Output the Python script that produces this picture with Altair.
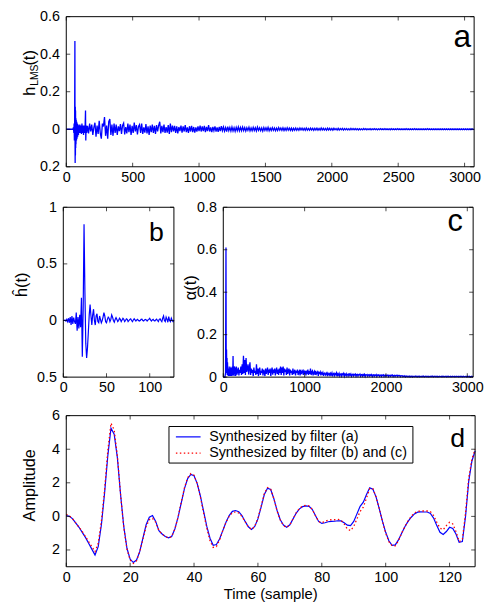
import altair as alt
import pandas as pd

FONT = "Liberation Sans"
BLUE = "#0000ff"
RED = "#ff0000"

# ---------------- data ----------------
# (a) LMS filter h_LMS(t): detailed head, then samples every 8
a_head_t = [0, 50, 54, 57, 59, 61, 63, 65, 66, 67, 68, 69, 70, 71, 72, 73, 75, 77, 79, 81,
            83, 86, 89, 92, 95, 98, 102, 106, 110, 114, 118, 122, 126, 130, 134, 138, 142,
            145, 147, 150, 154]
a_head_v = [0.0, 0.0, 0.01, -0.02, 0.03, -0.06, 0.04, 0.47, -0.05, -0.18, 0.12, -0.14, 0.1,
            -0.1, 0.06, -0.08, 0.05, -0.06, 0.04, -0.05, 0.03, -0.04, 0.025, -0.03, 0.02,
            -0.02, 0.025, -0.02, 0.02, -0.025, 0.03, -0.02, 0.02, -0.03, 0.02, -0.02, 0.015,
            0.10, -0.06, 0.02, -0.02]
a_tail_start = 160
a_tail_step = 8
a_tail_v = [
    # 160 .. 352
    0.018, -0.022, 0.03, -0.012, 0.025, -0.03, 0.01, 0.035, -0.04, 0.02,
    -0.025, 0.045, -0.02, -0.05, 0.03, 0.015, 0.065, -0.035, 0.02, -0.05,
    0.04, 0.055, -0.03, 0.025, -0.035,
    # 360 .. 704
    0.03, -0.02, 0.025, -0.03, 0.015, -0.01, 0.028, -0.025, 0.02, 0.032,
    -0.028, 0.012, -0.022, 0.03, -0.015, 0.025, -0.03, 0.018, -0.02, 0.035,
    -0.012, 0.022, -0.028, 0.015, 0.025, -0.02, 0.03, -0.025, 0.01, -0.018,
    0.028, -0.022, 0.015, -0.03, 0.02, -0.015, 0.025, -0.02, 0.018, -0.025,
    0.022, -0.012, 0.02, 0.04,
    # 712 .. 1000
    -0.022, 0.018, -0.015, 0.025, -0.02, 0.012, -0.018, 0.022, -0.025, 0.03,
    -0.015, 0.02, -0.012, 0.018, -0.02, 0.015, -0.022, 0.012, -0.01, 0.02,
    -0.018, 0.015, -0.012, 0.022, -0.015, 0.01, -0.02, 0.016, -0.012, 0.018,
    -0.015, 0.012, -0.018, 0.01, -0.012, 0.015, -0.01,
    # 1008 .. 1304
    0.02, -0.012, 0.015, -0.01, 0.018, -0.015, 0.012, -0.01, 0.022, -0.012,
    0.01, -0.015, 0.012, -0.008, 0.015, -0.012, 0.01, -0.014, 0.012, -0.01,
    0.016, -0.008, 0.012, -0.01, 0.009, -0.012, 0.014, -0.008, 0.01, -0.01,
    0.012, -0.009, 0.008, -0.011, 0.01, -0.008, 0.012, -0.009,
    # 1312 .. 1704
    0.01, -0.008, 0.012, -0.007, 0.009, -0.01, 0.008, -0.006, 0.011, -0.009,
    0.007, -0.008, 0.01, -0.007, 0.008, -0.009, 0.012, -0.006, 0.008, -0.008,
    0.007, -0.01, 0.009, -0.006, 0.008, -0.007, 0.01, -0.008, 0.006, -0.007,
    0.009, -0.006, 0.007, -0.008, 0.006, -0.007, 0.009, -0.005, 0.007, -0.006,
    0.008, -0.007, 0.006, -0.006, 0.008, -0.005, 0.007, -0.006, 0.006, -0.007,
    # 1712 .. 2200
    0.006, -0.005, 0.007, -0.006, 0.005, -0.006, 0.007, -0.004, 0.006, -0.005,
    0.005, -0.006, 0.007, -0.005, 0.004, -0.005, 0.006, -0.004, 0.005, -0.006,
    0.005, -0.004, 0.006, -0.005, 0.004, -0.005, 0.007, -0.004, 0.005, -0.004,
    0.004, -0.005, 0.006, -0.004, 0.005, -0.004, 0.004, -0.005, 0.005, -0.003,
    0.004, -0.004, 0.005, -0.004, 0.004, -0.003, 0.005, -0.004, 0.004, -0.003,
    0.004, -0.004, 0.003, -0.004, 0.005, -0.003, 0.004, -0.003, 0.004, -0.003,
    0.003, -0.004,
    # 2208 .. 3072
    0.003, -0.003, 0.002, -0.003, 0.004, -0.002, 0.003, -0.003, 0.002, -0.002,
    0.003, -0.003, 0.002, -0.002, 0.003, -0.002, 0.002, -0.003, 0.002, -0.002,
    0.003, -0.002, 0.002, -0.002, 0.003, -0.002, 0.002, -0.002, 0.002, -0.003,
    0.003, -0.002, 0.002, -0.002, 0.002, -0.002, 0.003, -0.002, 0.002, -0.002,
    0.002, -0.002, 0.002, -0.002, 0.003, -0.002, 0.002, -0.002, 0.002, -0.002,
    0.002, -0.002, 0.003, -0.002, 0.002, -0.002, 0.002, -0.002, 0.002, -0.002,
    0.002, -0.002, 0.002, -0.002, 0.003, -0.002, 0.002, -0.002, 0.002, -0.002,
    0.002, -0.002, 0.002, -0.002, 0.002, -0.002, 0.002, -0.002, 0.002, -0.002,
    0.002, -0.002, 0.002, -0.002, 0.002, -0.002, 0.002, -0.002, 0.002, -0.002,
    0.002, -0.002, 0.002, -0.002, 0.002, -0.002, 0.002, -0.002, 0.002, -0.002,
    0.002, -0.002, 0.002, -0.002, 0.002, -0.002, 0.002, -0.002, 0.0]

# (b) sparse filter h^(t), samples 0..128
b_v = [0.0, 0.0, 0.005, -0.005, 0.01, -0.01, 0.02, -0.02, 0.03, -0.04,
       0.04, -0.03, 0.025, -0.01, -0.03, 0.07, -0.09, 0.03, -0.07, 0.05,
       -0.06, 0.2, -0.32, 0.1, 0.85, 0.25, -0.2, -0.33, -0.24, -0.1,
       0.05, 0.14, 0.04, -0.04, 0.05, 0.1, 0.0, -0.04, 0.04, 0.06,
       -0.01, -0.02, 0.04, 0.01, -0.02, 0.0, 0.03, 0.07, 0.04, -0.01,
       -0.02, 0.01, 0.03, 0.02, -0.01, 0.01, 0.05, 0.03, 0.0, -0.015,
       0.01, 0.025, 0.01, -0.01, 0.0, 0.02, 0.01, -0.01, 0.005, 0.02,
       0.01, -0.01, 0.0, 0.015, 0.01, -0.01, 0.0, 0.01, 0.015, 0.0,
       -0.01, 0.005, 0.015, 0.005, -0.005, 0.005, 0.01, 0.0, -0.005, 0.0,
       0.01, 0.012, 0.0, -0.005, 0.005, 0.01, 0.005, -0.005, 0.005, 0.01,
       0.02, 0.005, -0.005, 0.005, 0.01, 0.0, -0.005, 0.005, 0.012, 0.0,
       -0.01, 0.01, 0.015, 0.0, -0.01, 0.02, 0.04, 0.0, -0.01, 0.03,
       0.01, -0.015, 0.035, 0.0, -0.01, 0.02, 0.0, -0.01, 0.005]

# (c) alpha(t): detailed head, then samples every 8
c_head_t = [0, 20, 28, 33, 36, 40, 43, 46, 49, 52, 55, 58, 61, 64, 68, 72, 76, 80, 84, 88,
            92, 96, 100, 104, 108, 112, 116, 120, 124, 128, 132, 136]
c_head_v = [0.0, 0.0, 0.02, 0.61, 0.05, 0.13, 0.02, 0.09, 0.01, 0.07, 0.02, 0.05, 0.005,
            0.04, 0.01, 0.03, 0.005, 0.05, 0.01, 0.03, 0.005, 0.045, 0.01, 0.03, 0.005,
            0.05, 0.01, 0.1, 0.01, 0.04, 0.005, 0.05]
c_tail_start = 144
c_tail_step = 8
c_tail_v = [
    # 144 .. 352
    0.04, 0.005, 0.05, 0.012, 0.03, 0.045, 0.008, 0.035, 0.02, 0.05,
    0.01, 0.06, 0.015, 0.1, 0.02, 0.08, 0.01, 0.09, 0.025, 0.04,
    0.06, 0.012, 0.045, 0.07, 0.01, 0.04, 0.02,
    # 360 .. 704
    0.035, 0.005, 0.045, 0.02, 0.03, 0.01, 0.06, 0.015, 0.04, 0.005,
    0.035, 0.045, 0.01, 0.03, 0.02, 0.04, 0.008, 0.035, 0.025, 0.005,
    0.04, 0.015, 0.03, 0.045, 0.01, 0.035, 0.02, 0.04, 0.005, 0.03,
    0.045, 0.012, 0.035, 0.02, 0.04, 0.008, 0.03, 0.045, 0.015, 0.035,
    0.01, 0.04, 0.02, 0.05,
    # 712 .. 1000
    0.01, 0.045, 0.02, 0.05, 0.008, 0.04, 0.025, 0.035, 0.01, 0.045,
    0.015, 0.03, 0.04, 0.008, 0.035, 0.02, 0.03, 0.01, 0.04, 0.015,
    0.025, 0.035, 0.008, 0.03, 0.02, 0.035, 0.01, 0.025, 0.03, 0.008,
    0.035, 0.015, 0.025, 0.03, 0.01, 0.028, 0.02,
    # 1008 .. 1304
    0.03, 0.008, 0.025, 0.02, 0.035, 0.01, 0.028, 0.015, 0.04, 0.01,
    0.025, 0.03, 0.008, 0.022, 0.028, 0.01, 0.03, 0.015, 0.02, 0.025,
    0.006, 0.022, 0.018, 0.025, 0.008, 0.02, 0.015, 0.022, 0.006, 0.018,
    0.02, 0.01, 0.015, 0.02, 0.005, 0.018, 0.012, 0.016,
    # 1312 .. 1704
    0.005, 0.018, 0.012, 0.02, 0.004, 0.015, 0.018, 0.008, 0.016, 0.012,
    0.02, 0.004, 0.015, 0.01, 0.018, 0.006, 0.014, 0.016, 0.005, 0.015,
    0.012, 0.018, 0.004, 0.014, 0.01, 0.016, 0.005, 0.013, 0.015, 0.006,
    0.014, 0.01, 0.015, 0.004, 0.012, 0.014, 0.006, 0.013, 0.01, 0.014,
    0.004, 0.012, 0.013, 0.005, 0.012, 0.01, 0.014, 0.004, 0.011, 0.012,
    # 1712 .. 2200
    0.005, 0.012, 0.008, 0.013, 0.003, 0.011, 0.01, 0.012, 0.004, 0.01,
    0.012, 0.005, 0.011, 0.008, 0.012, 0.003, 0.01, 0.011, 0.004, 0.01,
    0.008, 0.012, 0.003, 0.01, 0.009, 0.011, 0.004, 0.009, 0.01, 0.003,
    0.01, 0.008, 0.011, 0.003, 0.009, 0.01, 0.004, 0.009, 0.008, 0.01,
    0.003, 0.008, 0.009, 0.004, 0.009, 0.007, 0.01, 0.003, 0.008, 0.009,
    0.003, 0.008, 0.007, 0.009, 0.003, 0.008, 0.007, 0.008, 0.002, 0.007,
    0.006, 0.007,
    # 2208 .. 3072
    0.002, 0.005, 0.003, 0.006, 0.001, 0.004, 0.005, 0.002, 0.004, 0.003,
    0.005, 0.001, 0.004, 0.003, 0.005, 0.001, 0.004, 0.004, 0.002, 0.005,
    0.003, 0.004, 0.001, 0.004, 0.003, 0.005, 0.001, 0.003, 0.004, 0.002,
    0.004, 0.003, 0.005, 0.001, 0.003, 0.004, 0.002, 0.004, 0.003, 0.004,
    0.001, 0.003, 0.004, 0.002, 0.004, 0.003, 0.005, 0.001, 0.003, 0.004,
    0.002, 0.004, 0.003, 0.004, 0.001, 0.003, 0.004, 0.002, 0.003, 0.004,
    0.001, 0.004, 0.003, 0.004, 0.002, 0.003, 0.004, 0.001, 0.004, 0.003,
    0.004, 0.002, 0.003, 0.004, 0.001, 0.003, 0.004, 0.002, 0.003, 0.004,
    0.001, 0.003, 0.004, 0.002, 0.003, 0.004, 0.001, 0.003, 0.004, 0.002,
    0.003, 0.003, 0.001, 0.004, 0.003, 0.002, 0.003, 0.004, 0.001, 0.003,
    0.003, 0.002, 0.004, 0.003, 0.001, 0.003, 0.004, 0.002, 0.003]

# (d) synthesized waveforms, samples 0..128
d_blue = [0.05, 0.0, -0.15, -0.4, -0.65, -0.95, -1.25, -1.6, -1.95, -2.3,
          -1.8, -0.5, 1.4, 3.6, 5.25, 4.9, 3.5, 1.3, -0.6, -1.9,
          -2.55, -2.75, -2.6, -2.1, -1.3, -0.5, -0.05, 0.05, -0.3, -0.85,
          -1.05, -1.2, -1.28, -1.2, -0.75, -0.05, 0.8, 1.65, 2.25, 2.5,
          2.42, 1.95, 1.2, 0.3, -0.6, -1.3, -1.72, -1.68, -1.35, -0.85,
          -0.35, 0.05, 0.3, 0.35, 0.28, 0.05, -0.3, -0.62, -0.78, -0.6,
          -0.15, 0.55, 1.3, 1.68, 1.6, 1.05, 0.35, -0.2, -0.52, -0.65,
          -0.5, -0.15, 0.2, 0.45, 0.58, 0.63, 0.6, 0.42, 0.05, -0.3,
          -0.42, -0.38, -0.32, -0.3, -0.29, -0.26, -0.27, -0.38, -0.52, -0.55,
          -0.3, 0.15, 0.6, 0.85, 1.3, 1.7, 1.62, 1.15, 0.45, -0.3,
          -0.95, -1.45, -1.72, -1.7, -1.4, -1.0, -0.62, -0.3, -0.05, 0.15,
          0.25, 0.27, 0.26, 0.26, 0.18, -0.1, -0.55, -0.95, -1.08, -0.9,
          -0.65, -0.72, -1.05, -1.55, -1.5, 0.0, 2.1, 3.3, 3.9]
d_red = [0.12, 0.02, -0.15, -0.4, -0.65, -0.9, -1.2, -1.5, -1.8, -2.1,
         -1.6, -0.3, 1.6, 3.9, 5.55, 5.15, 3.6, 1.3, -0.65, -1.95,
         -2.6, -2.8, -2.65, -2.1, -1.35, -0.6, -0.2, -0.12, -0.35, -0.85,
         -1.05, -1.2, -1.28, -1.2, -0.75, -0.05, 0.85, 1.7, 2.3, 2.55,
         2.45, 1.95, 1.15, 0.2, -0.7, -1.45, -1.85, -1.8, -1.4, -0.85,
         -0.35, 0.0, 0.22, 0.27, 0.2, 0.0, -0.32, -0.62, -0.78, -0.6,
         -0.12, 0.6, 1.35, 1.72, 1.62, 1.05, 0.32, -0.22, -0.55, -0.65,
         -0.5, -0.15, 0.22, 0.48, 0.62, 0.66, 0.62, 0.42, 0.05, -0.3,
         -0.38, -0.3, -0.22, -0.2, -0.2, -0.18, -0.22, -0.45, -0.75, -0.85,
         -0.6, -0.15, 0.3, 0.55, 1.1, 1.65, 1.65, 1.15, 0.45, -0.3,
         -1.0, -1.5, -1.75, -1.75, -1.45, -1.0, -0.62, -0.28, 0.0, 0.2,
         0.3, 0.32, 0.32, 0.32, 0.28, 0.05, -0.35, -0.7, -0.8, -0.55,
         -0.35, -0.45, -0.9, -1.5, -1.4, 0.2, 2.3, 3.4, 4.0]

legend_labels = ["Synthesized by filter (a)", "Synthesized by filter (b) and (c)"]
panel_letters = ["a", "b", "c", "d"]

# ---------------- tables ----------------
a_t = a_head_t + [a_tail_start + a_tail_step * k for k in range(len(a_tail_v))]
df_a = pd.DataFrame({"t": a_t, "v": a_head_v + a_tail_v})
df_b = pd.DataFrame({"t": list(range(len(b_v))), "v": b_v})
c_t = c_head_t + [c_tail_start + c_tail_step * k for k in range(len(c_tail_v))]
df_c = pd.DataFrame({"t": c_t, "v": c_head_v + c_tail_v})
df_d_blue = pd.DataFrame({"t": list(range(len(d_blue))), "v": d_blue})
df_d_red = pd.DataFrame({"t": list(range(len(d_red))), "v": d_red})

# ---------------- layout (pixels inside the chart) ----------------
W, H = 417, 557
P = {
    "a": dict(x0=3, x1=416, y0=0, y1=152, xd=[0, 3072], yd=[-0.2, 0.6],
              xt=[0, 500, 1000, 1500, 2000, 2500, 3000], yt=[-0.2, 0, 0.2, 0.4, 0.6]),
    "b": dict(x0=0, x1=112, y0=193, y1=365, xd=[0, 128], yd=[-0.5, 1],
              xt=[0, 50, 100], yt=[-0.5, 0, 0.5, 1]),
    "c": dict(x0=162, x1=415, y0=193, y1=365, xd=[0, 3072], yd=[0, 0.8],
              xt=[0, 1000, 2000, 3000], yt=[0, 0.2, 0.4, 0.6, 0.8]),
    "d": dict(x0=3, x1=417, y0=404, y1=557, xd=[0, 128], yd=[-3, 6],
              xt=[0, 20, 40, 60, 80, 100, 120], yt=[-2, 0, 2, 4, 6]),
}
LABEL = "format(abs(datum.value), '~g')"
LFS = 14.5
one = pd.DataFrame({"k": [0]})


def scales(p):
    xs = alt.Scale(domain=p["xd"], range=[p["x0"], p["x1"]], nice=False, zero=False)
    ys = alt.Scale(domain=p["yd"], range=[p["y1"], p["y0"]], nice=False, zero=False)
    return xs, ys


def data_line(p, df, color, width, dash=None, axes=True):
    xs, ys = scales(p)
    if axes:
        xa = alt.Axis(orient="bottom", offset=-(H - p["y1"]), values=p["xt"], labelExpr=LABEL,
                      title=None, grid=False, domain=False, ticks=False, tickSize=0,
                      labelPadding=4, labelFont=FONT, labelFontSize=LFS, labelColor="black",
                      labelOverlap=False, labelFlush=False)
        ya = alt.Axis(orient="left", offset=-p["x0"], values=p["yt"], labelExpr=LABEL,
                      title=None, grid=False, domain=False, ticks=False, tickSize=0,
                      labelPadding=7, labelFont=FONT, labelFontSize=LFS, labelColor="black",
                      labelOverlap=False, labelFlush=False)
    else:
        xa, ya = None, None
    kw = dict(color=color, strokeWidth=width)
    if dash:
        kw["strokeDash"] = dash
    return alt.Chart(df).mark_line(**kw).encode(
        x=alt.X("t:Q", scale=xs, axis=xa),
        y=alt.Y("v:Q", scale=ys, axis=ya),
    )


def tick_layers(p):
    xs, ys = scales(p)
    out = []
    dx = pd.DataFrame({"v": p["xt"]})
    dy = pd.DataFrame({"v": p["yt"]})
    for yy in (p["y0"] + 2, p["y1"] - 2):
        out.append(alt.Chart(dx).mark_tick(orient="vertical", size=4, thickness=1, color="black")
                   .encode(x=alt.X("v:Q", scale=xs, axis=None), y=alt.value(yy)))
    for xx in (p["x0"] + 2, p["x1"] - 2):
        out.append(alt.Chart(dy).mark_tick(orient="horizontal", size=4, thickness=1, color="black")
                   .encode(y=alt.Y("v:Q", scale=ys, axis=None), x=alt.value(xx)))
    out.append(alt.Chart(one).mark_rect(fillOpacity=0, stroke="black", strokeWidth=1).encode(
        x=alt.value(p["x0"]), x2=alt.value(p["x1"]), y=alt.value(p["y0"]), y2=alt.value(p["y1"])))
    return out


def text(s, x, y, size, angle=0, align="center", baseline="middle"):
    kw = dict(text=s, font=FONT, fontSize=size, align=align, baseline=baseline, color="black")
    if angle:
        kw["angle"] = angle
    return alt.Chart(one).mark_text(**kw).encode(x=alt.value(x), y=alt.value(y))


layers = []
layers.append(data_line(P["a"], df_a, BLUE, 1.3))
layers.append(data_line(P["b"], df_b, BLUE, 1.2))
layers.append(data_line(P["c"], df_c, BLUE, 1.3))
layers.append(data_line(P["d"], df_d_blue, BLUE, 1.2))
layers.append(data_line(P["d"], df_d_red, RED, 1.3, dash=[1.5, 2.5], axes=False))
for k in "abcd":
    layers += tick_layers(P[k])

# y titles
layers.append(text("h", -29, 80, 16.5, angle=270, align="left", baseline="alphabetic"))
layers.append(text("LMS", -25.5, 70, 10.5, angle=270, align="left", baseline="alphabetic"))
layers.append(text("(t)", -29, 49.5, 16.5, angle=270, align="left", baseline="alphabetic"))
layers.append(text("ĥ(t)", -42, 271.5, 16.5, angle=270))
layers.append(text("α(t)", 129, 274.5, 16.5, angle=270))
layers.append(text("Amplitude", -33.5, 474.5, 16.5, angle=270))
layers.append(text("Time (sample)", 210, 585, 15))

# panel letters
layers.append(text(panel_letters[0], 404, 30.5, 32, baseline="alphabetic"))
layers.append(text(panel_letters[1], 94.3, 227, 27, baseline="alphabetic"))
layers.append(text(panel_letters[2], 396.8, 217, 31, baseline="alphabetic"))
layers.append(text(panel_letters[3], 399.3, 435.3, 27, baseline="alphabetic"))

# legend box for panel d
layers.append(alt.Chart(one).mark_rect(fill="white", stroke="black", strokeWidth=1).encode(
    x=alt.value(107), x2=alt.value(354), y=alt.value(415), y2=alt.value(452)))
layers.append(alt.Chart(one).mark_rule(color=BLUE, strokeWidth=1.2).encode(
    x=alt.value(114), x2=alt.value(139), y=alt.value(425.5)))
layers.append(alt.Chart(one).mark_rule(color=RED, strokeWidth=1.3, strokeDash=[1.5, 2.5]).encode(
    x=alt.value(114), x2=alt.value(139), y=alt.value(442)))
layers.append(text(legend_labels[0], 147.7, 425.5, 14.5, align="left"))
layers.append(text(legend_labels[1], 147.7, 442, 14.5, align="left"))

chart = (
    alt.layer(*layers)
    .resolve_scale(x="independent", y="independent")
    .properties(
        width=W,
        height=H,
        autosize=alt.AutoSizeParams(type="none"),
        padding={"left": 56, "top": 5, "right": 10, "bottom": 38},
        background="white",
    )
    .configure_view(stroke=None)
)

chart.save("out.html", embed_options={"renderer": "svg", "actions": False})
